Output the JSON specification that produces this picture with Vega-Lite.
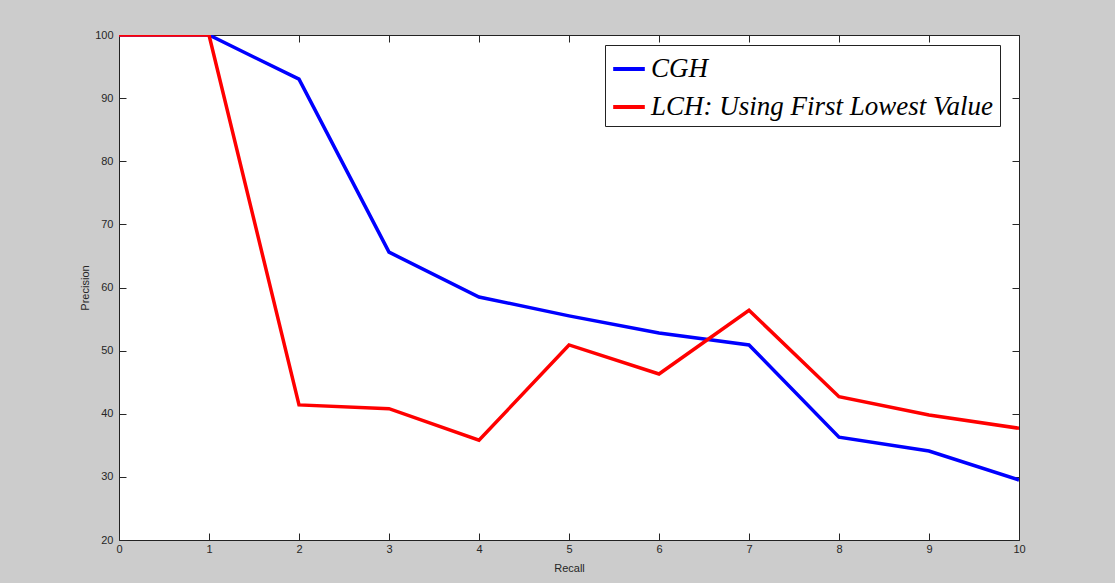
{
  "$schema": "https://vega.github.io/schema/vega-lite/v6.json",
  "width": 900,
  "height": 505,
  "autosize": "none",
  "padding": {"left": 119, "top": 35, "right": 96, "bottom": 43},
  "background": "#cccccc",
  "config": {
    "view": {"fill": "white", "stroke": "#222222", "strokeWidth": 1},
    "axis": {"labelFont": "Liberation Sans", "labelFontSize": 11, "labelColor": "#262626", "titleFont": "Liberation Sans", "titleFontSize": 11, "titleFontWeight": "normal", "titleColor": "#262626", "grid": false, "domain": false, "tickColor": "#262626", "tickSize": -7, "labelFlush": false}
  },
  "data": {"values": [
    {"recall": 0, "precision": 100, "method": "CGH"},
    {"recall": 1, "precision": 100, "method": "CGH"},
    {"recall": 2, "precision": 93.0, "method": "CGH"},
    {"recall": 3, "precision": 65.6, "method": "CGH"},
    {"recall": 4, "precision": 58.5, "method": "CGH"},
    {"recall": 5, "precision": 55.5, "method": "CGH"},
    {"recall": 6, "precision": 52.8, "method": "CGH"},
    {"recall": 7, "precision": 50.9, "method": "CGH"},
    {"recall": 8, "precision": 36.3, "method": "CGH"},
    {"recall": 9, "precision": 34.1, "method": "CGH"},
    {"recall": 10, "precision": 29.5, "method": "CGH"},
    {"recall": 0, "precision": 100, "method": "LCH: Using First Lowest Value"},
    {"recall": 1, "precision": 100, "method": "LCH: Using First Lowest Value"},
    {"recall": 2, "precision": 41.4, "method": "LCH: Using First Lowest Value"},
    {"recall": 3, "precision": 40.8, "method": "LCH: Using First Lowest Value"},
    {"recall": 4, "precision": 35.8, "method": "LCH: Using First Lowest Value"},
    {"recall": 5, "precision": 50.9, "method": "LCH: Using First Lowest Value"},
    {"recall": 6, "precision": 46.3, "method": "LCH: Using First Lowest Value"},
    {"recall": 7, "precision": 56.4, "method": "LCH: Using First Lowest Value"},
    {"recall": 8, "precision": 42.7, "method": "LCH: Using First Lowest Value"},
    {"recall": 9, "precision": 39.8, "method": "LCH: Using First Lowest Value"},
    {"recall": 10, "precision": 37.7, "method": "LCH: Using First Lowest Value"}
  ]},
  "resolve": {"axis": {"x": "independent", "y": "independent"}},
  "layer": [
    {
      "mark": {"type": "line", "strokeWidth": 3.5, "clip": true},
      "encoding": {
        "x": {"field": "recall", "type": "quantitative", "scale": {"domain": [0, 10], "nice": false, "zero": false}, "axis": {"title": "Recall", "values": [0,1,2,3,4,5,6,7,8,9,10], "titlePadding": 8, "labelPadding": 10}},
        "y": {"field": "precision", "type": "quantitative", "scale": {"domain": [20, 100], "nice": false, "zero": false}, "axis": {"title": "Precision", "values": [20,30,40,50,60,70,80,90,100], "titlePadding": 4, "labelPadding": 13}},
        "color": {"field": "method", "type": "nominal", "scale": {"domain": ["CGH", "LCH: Using First Lowest Value"], "range": ["#0000ff", "#ff0000"]},
          "legend": {"title": null, "orient": "none", "legendX": 486, "legendY": 10, "direction": "vertical", "symbolType": "stroke", "symbolStrokeWidth": 4, "symbolSize": 1000, "labelFont": "Liberation Serif", "labelFontStyle": "italic", "labelFontSize": 27, "labelColor": "black", "labelLimit": 500, "rowPadding": 7, "padding": 6, "strokeColor": "#222222", "fillColor": "white", "labelOffset": 4}}
      }
    },
    {
      "mark": {"type": "point", "opacity": 0},
      "encoding": {
        "x": {"field": "recall", "type": "quantitative", "axis": {"orient": "top", "title": null, "labels": false, "values": [0,1,2,3,4,5,6,7,8,9,10]}},
        "y": {"field": "precision", "type": "quantitative", "axis": {"orient": "right", "title": null, "labels": false, "values": [20,30,40,50,60,70,80,90,100]}}
      }
    }
  ]
}
